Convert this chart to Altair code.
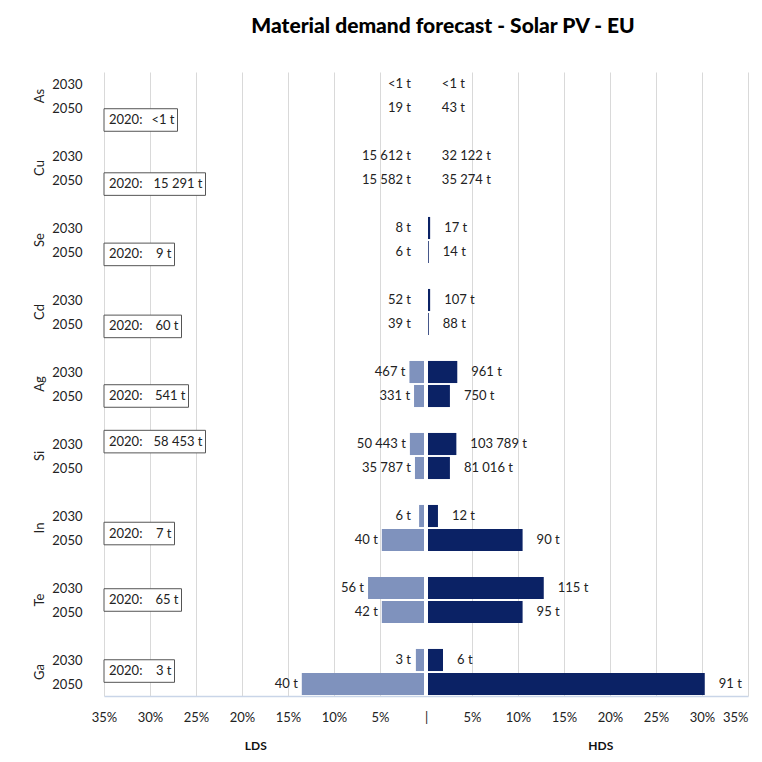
import altair as alt
import pandas as pd

# ---------------- data ----------------
elements = ["As", "Cu", "Se", "Cd", "Ag", "Si", "In", "Te", "Ga"]
years = ["2030", "2050"]

# share of global supply (%)
lds_2030 = [0.0, 0.05, 0.10, 0.10, 1.8, 1.75, 0.75, 6.3, 1.1]
lds_2050 = [0.0, 0.05, 0.08, 0.08, 1.3, 1.2, 4.8, 4.8, 13.5]
hds_2030 = [0.0, 0.05, 0.45, 0.45, 3.4, 3.3, 1.3, 12.8, 1.85]
hds_2050 = [0.0, 0.05, 0.30, 0.30, 2.6, 2.6, 10.5, 10.5, 30.3]

# tonnes labels
lds_2030_lbl = ["<1 t", "15 612 t", "8 t", "52 t", "467 t", "50 443 t", "6 t", "56 t", "3 t"]
lds_2050_lbl = ["19 t", "15 582 t", "6 t", "39 t", "331 t", "35 787 t", "40 t", "42 t", "40 t"]
hds_2030_lbl = ["<1 t", "32 122 t", "17 t", "107 t", "961 t", "103 789 t", "12 t", "115 t", "6 t"]
hds_2050_lbl = ["43 t", "35 274 t", "14 t", "88 t", "750 t", "81 016 t", "90 t", "95 t", "91 t"]
base_2020 = ["<1 t", "15 291 t", "9 t", "60 t", "541 t", "58 453 t", "7 t", "65 t", "3 t"]

x_ticks = list(range(-35, 40, 5))

# ---------------- layout (not data) ----------------
W, H = 644, 624
PX_PER_PCT = W / 70.0
BOX_SHIFT = [1.5, 1.17, 1.1, 1.1, 1.0, -0.1, 0.73, 0.5, 0.46]  # box row relative to 2030 row
LIGHT = "#7f92bd"
DARK = "#0b2265"
FONT = "Lato"
TXT = "#222222"

def text_width(s):
    w = 0.0
    for ch in s:
        if ch.isdigit():
            w += 7.0
        elif ch in "< ":
            w += 3.0
        else:
            w += 4.5
    return w

vals = {("LDS", "2030"): lds_2030, ("LDS", "2050"): lds_2050,
        ("HDS", "2030"): hds_2030, ("HDS", "2050"): hds_2050}
lbls = {("LDS", "2030"): lds_2030_lbl, ("LDS", "2050"): lds_2050_lbl,
        ("HDS", "2030"): hds_2030_lbl, ("HDS", "2050"): hds_2050_lbl}

bar_rows = []
for g, el in enumerate(elements):
    for k, yr in enumerate(years):
        pos = g * 3 + k
        for side in ["LDS", "HDS"]:
            v = vals[(side, yr)][g]
            sign = -1 if side == "LDS" else 1
            bar_rows.append({
                "element": el, "year": yr, "side": side, "pos": pos,
                "xa": 0.0, "xb": sign * v,
                "lx": sign * max(v, 1.2 if side == "LDS" else 0.2),
                "label": lbls[(side, yr)][g],
            })
bars_df = pd.DataFrame(bar_rows)

box_rows = []
for g, el in enumerate(elements):
    bw = 56 + text_width(base_2020[g])
    box_rows.append({
        "element": el, "bpos": g * 3 + BOX_SHIFT[g],
        "bl": -35.0, "br": -35.0 + bw / PX_PER_PCT,
        "prefix": "2020:", "value": base_2020[g],
    })
box_df = pd.DataFrame(box_rows)

el_df = pd.DataFrame({"element": elements,
                      "epos": [g * 3 + 0.5 for g in range(len(elements))]})
scen_df = pd.DataFrame({"scen": ["LDS", "HDS"], "sx": [-18.5, 19.0]})

year_ticks = [g * 3 + k for g in range(len(elements)) for k in range(2)]

xscale = alt.Scale(domain=[-35, 35], nice=False, zero=False)
yscale = alt.Scale(domain=[-0.5, 25.5], reverse=True, nice=False, zero=False)

x_axis = alt.Axis(
    values=x_ticks, title=None, ticks=False,
    labelExpr="datum.value == 0 ? '|' : abs(datum.value) + '%'",
    labelFont=FONT, labelFontSize=13, labelColor=TXT, labelPadding=15,
    labelFlush=False, labelOverlap=False,
    labelAlign={"condition": {"test": "datum.value >= 35", "value": "right"}, "value": "center"},
    grid=True, gridColor="#d9d9d9",
    gridOpacity={"condition": {"test": "datum.value == 0", "value": 0}, "value": 1},
    domainColor="#c9d5e8", domainWidth=1.5,
)
y_axis = alt.Axis(
    values=year_ticks, title=None, ticks=False, domain=False, grid=False,
    labelExpr="(datum.value % 3) < 0.5 ? '2030' : '2050'",
    labelFont=FONT, labelFontSize=13, labelColor=TXT, labelPadding=22,
    labelOverlap=False, labelFlush=False, labelBound=False,
)

def X(field):
    return alt.X(field, scale=xscale, axis=x_axis)

def Y(field):
    return alt.Y(field, scale=yscale, axis=y_axis)

base = alt.Chart(bars_df)

bars = base.transform_calculate(
    y1="datum.pos - 0.46", y2="datum.pos + 0.46"
).mark_rect().encode(
    x=X("xa:Q"),
    x2="xb:Q",
    y=Y("y1:Q"),
    y2="y2:Q",
    color=alt.Color("side:N", scale=alt.Scale(domain=["LDS", "HDS"], range=[LIGHT, DARK]), legend=None),
)

gap = alt.Chart(el_df).mark_rule(color="white", strokeWidth=3).encode(
    x=alt.datum(0), y=alt.value(0), y2=alt.value(H)
)

lab_left = base.transform_filter("datum.side == 'LDS'").mark_text(
    align="right", baseline="middle", dx=-4, font=FONT, fontSize=13, color=TXT
).encode(x=X("lx:Q"), y=Y("pos:Q"), text="label:N")

lab_right = base.transform_filter("datum.side == 'HDS'").mark_text(
    align="left", baseline="middle", dx=14, font=FONT, fontSize=13, color=TXT
).encode(x=X("lx:Q"), y=Y("pos:Q"), text="label:N")

boxes = alt.Chart(box_df).transform_calculate(
    b1="datum.bpos - 0.47", b2="datum.bpos + 0.47"
).mark_rect(fill="white", stroke="#555555", strokeWidth=1).encode(
    x=X("bl:Q"), x2="br:Q", y=Y("b1:Q"), y2="b2:Q",
)
box_pre = alt.Chart(box_df).mark_text(
    align="left", baseline="middle", dx=5, font=FONT, fontSize=13, color=TXT
).encode(x=X("bl:Q"), y=Y("bpos:Q"), text="prefix:N")
box_val = alt.Chart(box_df).mark_text(
    align="right", baseline="middle", dx=-3, font=FONT, fontSize=13, color=TXT
).encode(x=X("br:Q"), y=Y("bpos:Q"), text="value:N")

el_labels = alt.Chart(el_df).mark_text(
    angle=270, align="center", baseline="middle", font=FONT, fontSize=13, color=TXT
).encode(x=alt.value(-64), y=Y("epos:Q"), text="element:N")

scen_labels = alt.Chart(scen_df).mark_text(
    align="center", baseline="middle", font=FONT, fontSize=12, fontWeight="bold", color="#111111"
).encode(x=X("sx:Q"), y=alt.value(H + 50), text="scen:N")

chart = alt.layer(
    bars, gap, lab_left, lab_right, boxes, box_pre, box_val, el_labels, scen_labels
).properties(
    width=W, height=H,
    title=alt.TitleParams(
        "Material demand forecast - Solar PV - EU",
        font=FONT, fontSize=21, fontWeight=900, color="#000000",
        anchor="middle", offset=34, dx=17,
    ),
    autosize=alt.AutoSizeParams(type="none"),
    padding={"left": 96, "top": 64, "right": 6, "bottom": 58},
).configure_view(stroke=None)

chart.save("out.html", embed_options={"renderer": "svg", "actions": False})
